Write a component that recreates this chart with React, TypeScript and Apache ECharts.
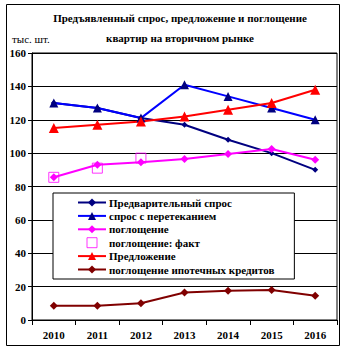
import React, { useEffect, useRef } from "react";
import * as echarts from "echarts";

const years = ["2010", "2011", "2012", "2013", "2014", "2015", "2016"];
const preDemand = [130, 127, 121, 117, 108, 100, 90];
const demandFlow = [130, 127, 121, 141, 134, 127, 120];
const absorption = [85.5, 93, 94.5, 96.5, 99.5, 102.5, 96];
const absorptionFact = [85.5, 91, 97, null, null, null, null];
const supply = [115, 117, 119, 122, 126, 130, 138];
const mortgage = [8.5, 8.5, 10, 16.5, 17.5, 18, 14.5];

const FONT = "Liberation Serif, Times New Roman, serif";

export default function App() {
  const ref = useRef<HTMLDivElement>(null);
  useEffect(() => {
    if (!ref.current) return;
    const chart = echarts.init(ref.current, undefined, { renderer: "svg" });
    const line = (name: string, data: any[], color: string, lineColor: string, symbol: string, size: number) => ({
      name,
      type: "line",
      data,
      symbol,
      symbolSize: size,
      lineStyle: { color: lineColor, width: 2 },
      itemStyle: { color },
      emphasis: { disabled: true },
    });
    chart.setOption({
      animation: false,
      backgroundColor: "#fff",
      textStyle: { fontFamily: FONT },
      grid: { left: 32, top: 53, right: 9, bottom: 32, show: true, borderColor: "#000", borderWidth: 1 },
      xAxis: {
        type: "category",
        data: years,
        boundaryGap: true,
        axisLine: { lineStyle: { color: "#000", width: 1 } },
        axisTick: { show: true, length: 5, lineStyle: { color: "#000" } },
        axisLabel: { color: "#000", fontFamily: FONT, fontSize: 11, fontWeight: "bold", margin: 9 },
      },
      yAxis: {
        type: "value",
        min: 0,
        max: 160,
        interval: 20,
        axisLine: { show: true, lineStyle: { color: "#000", width: 1 } },
        axisTick: { show: true, length: 4, lineStyle: { color: "#000" } },
        splitLine: { show: true, lineStyle: { color: "#000", width: 1 } },
        axisLabel: { color: "#000", fontFamily: FONT, fontSize: 11, fontWeight: "bold", margin: 6 },
      },
      legend: {
        orient: "vertical",
        left: 53,
        top: 193,
        width: 249,
        backgroundColor: "#fff",
        borderColor: "#000",
        borderWidth: 1,
        borderRadius: 0,
        padding: [4, 20, 4, 24],
        itemWidth: 28,
        itemHeight: 10,
        itemGap: 2.4,
        selectedMode: false,
        textStyle: { color: "#000", fontFamily: FONT, fontSize: 11, fontWeight: "bold", padding: [0, 0, 0, -2] },
        data: [
          "Предварительный спрос",
          "спрос с перетеканием",
          "поглощение",
          {
            name: "поглощение: факт",
            icon: "path://M0,0H10V10H0Z",
            itemStyle: { color: "rgba(255,255,255,0)", borderColor: "#FF00FF", borderWidth: 1 },
          },
          "Предложение",
          "поглощение ипотечных кредитов",
        ],
      },
      series: [
        line("Предварительный спрос", preDemand, "#000080", "#000080", "diamond", 6),
        line("спрос с перетеканием", demandFlow, "#000080", "#0000FF", "triangle", 9),
        line("поглощение", absorption, "#FF00FF", "#FF00FF", "diamond", 8),
        {
          name: "поглощение: факт",
          type: "scatter",
          data: absorptionFact,
          symbol: "rect",
          symbolSize: 10,
          itemStyle: { color: "rgba(255,255,255,0)", borderColor: "#FF00FF", borderWidth: 1 },
          emphasis: { disabled: true },
        },
        line("Предложение", supply, "#FF0000", "#FF0000", "triangle", 10),
        line("поглощение ипотечных кредитов", mortgage, "#800000", "#800000", "diamond", 8),
      ],
      graphic: [
        {
          type: "rect",
          shape: { x: 6.5, y: 4.5, width: 333, height: 341 },
          style: { fill: "none", stroke: "#000", lineWidth: 1 },
          silent: true,
          z: -10,
        },
        {
          type: "text",
          x: 180,
          y: 18,
          style: {
            text: "Предъявленный спрос, предложение и поглощение",
            fill: "#000",
            fontFamily: FONT,
            fontSize: 11,
            fontWeight: "bold",
            textAlign: "center",
            textVerticalAlign: "middle",
          },
        },
        {
          type: "text",
          x: 180,
          y: 38,
          style: {
            text: "квартир на вторичном рынке",
            fill: "#000",
            fontFamily: FONT,
            fontSize: 11,
            fontWeight: "bold",
            textAlign: "center",
            textVerticalAlign: "middle",
          },
        },
        {
          type: "text",
          x: 12,
          y: 39,
          style: {
            text: "тыс. шт.",
            fill: "#000",
            fontFamily: FONT,
            fontSize: 11,
            textAlign: "left",
            textVerticalAlign: "middle",
          },
        },
      ],
    });
    return () => chart.dispose();
  }, []);
  return <div ref={ref} style={{ width: 346, height: 352, position: "absolute", left: 0, top: 0 }} />;
}
